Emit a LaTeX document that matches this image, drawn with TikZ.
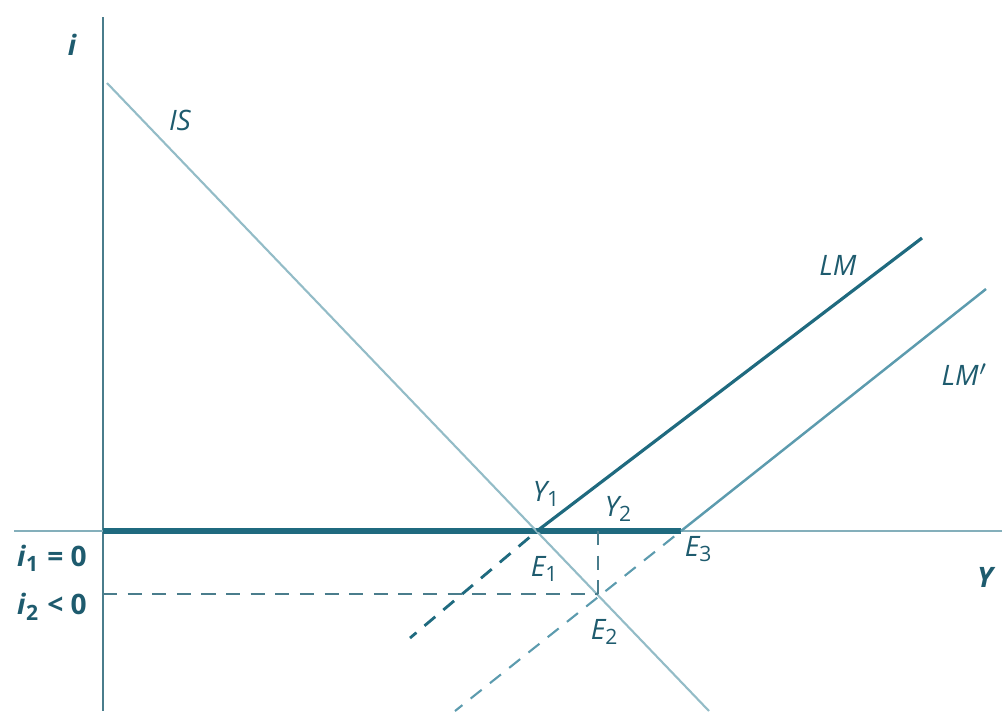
\documentclass[tikz,border=0pt]{standalone}
\usepackage{fontspec}
\setmainfont{Open Sans}
\usepackage{tikz}
\usetikzlibrary{calc}
\definecolor{islmdark}{HTML}{1F6A7F}
\definecolor{islmmid}{HTML}{5C9BAE}
\definecolor{islmlight}{HTML}{93BCC7}
\definecolor{islmaxis}{HTML}{4A7D8C}
\definecolor{islmtext}{HTML}{1E5B6E}
\tikzset{
  axis/.style={draw=islmaxis, line width=0.6pt},
  trap/.style={draw=islmdark, line width=1.8pt},
  iscurve/.style={draw=islmlight, line width=0.6pt},
  lmcurve/.style={draw=islmdark, line width=0.9pt},
  lmshift/.style={draw=islmmid, line width=0.7pt},
  guide/.style={draw=islmaxis, line width=0.5pt, dash pattern=on 4pt off 3pt},
  lbl/.style={font=\footnotesize\itshape, text=islmtext, inner sep=1pt},
  axlbl/.style={font=\footnotesize\bfseries, text=islmtext, inner sep=1pt},
}
\newcommand{\subup}[1]{\textsubscript{\upshape #1}}
\begin{document}
\begin{tikzpicture}[x=0.01cm, y=-0.01cm]
  \useasboundingbox (0,0) rectangle (1002,711);
  % axes
  \coordinate (O) at (103,531);
  \coordinate (itop) at (103,17);
  \coordinate (ibot) at (103,711);
  \coordinate (yleft) at (14,531);
  \coordinate (yright) at (1002,531);
  \draw[axis] (itop) -- (ibot);
  \draw[axis, draw=islmlight!80!islmaxis] (yleft) -- (yright);
  % equilibria
  \coordinate (E1) at (537,531);
  \coordinate (E2) at (598,594);
  \coordinate (E3) at (681,531);
  \coordinate (i2) at (103,594);
  \coordinate (Y2) at (598,531);
  % liquidity trap
  \draw[trap] (O) -- (E3);
  % IS
  \coordinate (IStop) at (107,83);
  \coordinate (ISbot) at (709,711);
  \draw[iscurve] (IStop) -- (ISbot);
  % LM and LM'
  \coordinate (LMend) at (922,238);
  \coordinate (LMdash) at (410,638);
  \coordinate (LMpend) at (986,289);
  \coordinate (LMpdash) at (455,711);
  \draw[lmcurve] (E1) -- (LMend);
  \draw[lmshift] (E3) -- (LMpend);
  \draw[guide, draw=islmdark, line width=0.8pt] ($(E1)!0.06!(LMdash)$) -- (LMdash);
  \draw[guide, draw=islmmid, line width=0.6pt] ($(E3)!0.03!(LMpdash)$) -- (LMpdash);
  \draw[guide] (i2) -- (E2);
  \draw[guide] (Y2) -- (E2);
  % labels
  \node[axlbl] (ilbl) at (72,45) {\itshape i};
  \node[axlbl] (ylbl) at (985,577) {\itshape Y};
  \node[axlbl] (i1lbl) at (52,558) {\textit{i}\subup{1} = 0};
  \node[axlbl] (i2lbl) at (52,607) {\textit{i}\subup{2} < 0};
  \node[lbl] (islbl) at (180,120) {IS};
  \node[lbl] (lmlbl) at (838,265) {LM};
  \node[lbl] (lmplbl) at (965,375) {LM$'$};
  \node[lbl] (y1lbl) at (547,494) {Y\subup{1}};
  \node[lbl] (y2lbl) at (619,509) {Y\subup{2}};
  \node[lbl] (e1lbl) at (545,569) {E\subup{1}};
  \node[lbl] (e2lbl) at (605,632) {E\subup{2}};
  \node[lbl] (e3lbl) at (699,549) {E\subup{3}};
\end{tikzpicture}
\end{document}
